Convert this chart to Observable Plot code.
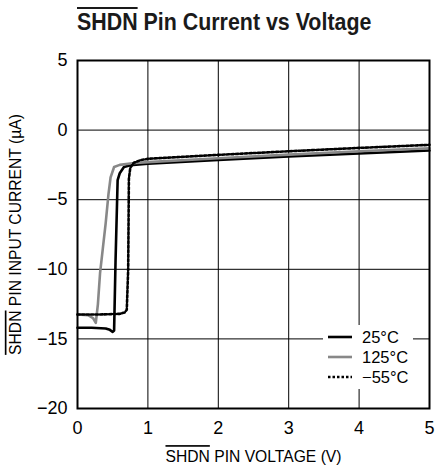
<!DOCTYPE html>
<html><head><meta charset="utf-8">
<script src="https://cdn.jsdelivr.net/npm/d3@7"></script>
<script src="https://cdn.jsdelivr.net/npm/@observablehq/plot@0.6"></script>
<style>
html,body{margin:0;padding:0;background:#fff;}
body{font-family:"Liberation Sans",Arial,sans-serif;color:#000;}
#wrap{position:relative;width:443px;height:465px;overflow:hidden;}
#title{position:absolute;left:77px;top:11px;font-size:23px;line-height:23px;font-weight:bold;white-space:nowrap;color:#1a1a1a;transform:scaleX(0.93);transform-origin:0 0;}
.ol{text-decoration:overline;text-decoration-thickness:1.5px;}
#chart{position:absolute;left:0;top:48px;}
#legend{position:absolute;left:323px;top:325px;width:90px;height:64px;background:#fff;box-sizing:border-box;padding-top:2px;}
.row{height:20px;display:flex;align-items:center;font-size:16.5px;}
.row svg{margin-left:5px;margin-right:10px;}
</style>
</head><body>
<div id="wrap">
  <div id="title"><span class="ol">SHDN</span> Pin Current vs Voltage</div>
  <div id="chart"></div>
  <div id="legend"></div>
</div>
<script>
// Series names and styles
const seriesNames = ["25°C", "125°C", "−55°C"];
const seriesColors = ["#000000", "#888888", "#000000"];
const seriesDash = [null, null, "2.5,2"];

// 25°C
const volt25 = [0, 0.2, 0.4, 0.46, 0.5, 0.52, 0.54, 0.57, 0.6, 0.66, 0.75, 1, 2, 3, 4, 5];
const curr25 = [-14.2, -14.2, -14.25, -14.35, -14.5, -14.4, -9.5, -3.6, -3.1, -2.65, -2.52, -2.42, -2.15, -1.9, -1.68, -1.47];
// 125°C
const volt125 = [0, 0.15, 0.22, 0.26, 0.29, 0.32, 0.36, 0.40, 0.44, 0.47, 0.52, 0.6, 0.78, 1, 2, 3, 4, 5];
const curr125 = [-13.25, -13.3, -13.5, -13.85, -12.5, -10.3, -8.5, -6.7, -4.6, -3.4, -2.65, -2.5, -2.38, -2.3, -2.02, -1.76, -1.52, -1.3];
// -55°C
const voltM55 = [0, 0.3, 0.6, 0.67, 0.70, 0.72, 0.73, 0.75, 0.8, 0.9, 1, 2, 3, 4, 5];
const currM55 = [-13.25, -13.25, -13.2, -13.1, -12.9, -10, -3.5, -2.7, -2.35, -2.15, -2.06, -1.78, -1.52, -1.28, -1.06];

const xTicks = [0, 1, 2, 3, 4, 5];
const yTicks = [5, 0, -5, -10, -15, -20];

const volts = [volt25, volt125, voltM55];
const currs = [curr25, curr125, currM55];
const data = [];
volts.forEach((vs, i) => vs.forEach((v, j) => data.push({series: seriesNames[i], v, c: currs[i][j]})));

const font = '"Liberation Sans",Arial,sans-serif';
const minusFmt = d => (d < 0 ? "−" + Math.abs(d) : String(d));

const chart = Plot.plot({
  width: 443,
  height: 417,
  marginLeft: 77,
  marginRight: 14,
  marginTop: 12,
  marginBottom: 57,
  style: {fontFamily: font, fontSize: "18px", color: "#000", background: "white", overflow: "visible"},
  x: {domain: [0, 5], ticks: xTicks, tickFormat: minusFmt, tickSize: 0, tickPadding: 13, label: "SHDN PIN VOLTAGE (V)", labelAnchor: "center", labelOffset: 53, labelArrow: "none"},
  y: {domain: [-20, 5], ticks: yTicks, tickFormat: minusFmt, tickSize: 0, tickPadding: 10, label: "SHDN PIN INPUT CURRENT (µA)", labelAnchor: "center", labelOffset: 68, labelArrow: "none"},
  marks: [
    Plot.gridX(xTicks, {stroke: "#000", strokeOpacity: 1, strokeWidth: 1}),
    Plot.gridY(yTicks, {stroke: "#000", strokeOpacity: 1, strokeWidth: 1}),
    ...seriesNames.map((name, i) => Plot.line(data.filter(d => d.series === name), {
      x: "v", y: "c", stroke: seriesColors[i], strokeWidth: 2.6,
      strokeDasharray: seriesDash[i] || undefined, strokeLinejoin: "round"
    })),
    Plot.frame({stroke: "#000", strokeWidth: 2})
  ]
});
document.getElementById("chart").appendChild(chart);

// overline SHDN in axis labels
function overlineLabel(sel, rest) {
  const t = chart.querySelector(sel);
  if (!t) return;
  t.textContent = "";
  t.setAttribute("font-size", "16.5");
  const ns = "http://www.w3.org/2000/svg";
  const a = document.createElementNS(ns, "tspan");
  a.setAttribute("style", "text-decoration:overline");
  a.textContent = "SHDN";
  const b = document.createElementNS(ns, "tspan");
  b.textContent = rest;
  t.appendChild(a); t.appendChild(b);
  const tr = t.getAttribute("transform") || "";
  t.setAttribute("transform", tr + " scale(0.95,1)");
}
overlineLabel('g[aria-label="x-axis label"] text', " PIN VOLTAGE (V)");
overlineLabel('g[aria-label="y-axis label"] text', " PIN INPUT CURRENT (µA)");

// legend
const leg = document.getElementById("legend");
seriesNames.forEach((name, i) => {
  const row = document.createElement("div");
  row.className = "row";
  row.innerHTML = `<svg width="24" height="6"><line x1="0" x2="24" y1="3" y2="3" stroke="${seriesColors[i]}" stroke-width="2.6" ${seriesDash[i] ? `stroke-dasharray="${seriesDash[i]}"` : ""}/></svg><span>${name}</span>`;
  leg.appendChild(row);
});
</script>
</body></html>
